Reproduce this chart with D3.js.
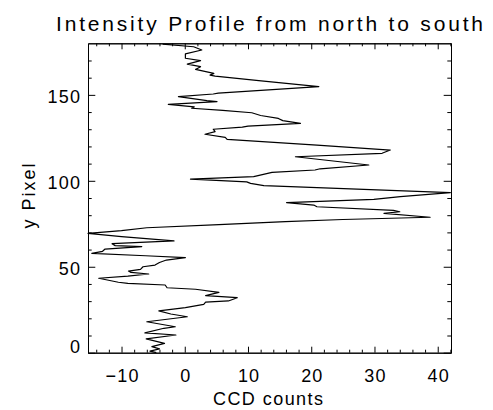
<!DOCTYPE html>
<html>
<head>
<meta charset="utf-8">
<script src="https://cdn.jsdelivr.net/npm/d3@7/dist/d3.min.js"></script>
<style>
  html, body { margin: 0; padding: 0; background: #fff; }
  svg { display: block; }
  text { font-family: "Liberation Sans", Arial, sans-serif; fill: #000; }
</style>
</head>
<body>
<svg id="chart" width="493" height="410"></svg>
<script>
// ---- data ----
const yPixel = [0, 0.9, 2.2, 3.5, 5.4, 8.0, 10.3, 11.5, 14.2, 15.1, 18.0, 20.9, 22.5, 24.3, 26.2, 28.1, 29.4, 30.1, 32.0, 33.2,
  35.1, 36.9, 37.8, 39.4, 40.3, 41.0, 43.3, 44.5, 45.8, 46.7, 47.5, 48.5, 50.0, 51.0, 52.5, 53.9, 55.3, 56.4, 57.8, 59.0,
  60.3, 61.7, 62.3, 63.4, 65.0, 67.5, 69.4, 71.0, 72.7, 74.5, 76.2, 77.5, 78.8, 81.1, 82.0, 82.8, 84.9, 85.9, 87.3, 89.2,
  90.8, 93.1, 97.2, 98.5, 99.4, 101.0, 102.4, 104.9, 106.3, 107.0, 109.2, 114.0, 116.0, 117.9, 120.8, 124.1, 125.3, 127.1, 128.6, 130.0,
  131.2, 131.8, 133.4, 135.0, 136.3, 138.0, 139.6, 141.0, 142.2, 143.0, 144.5, 146.1, 146.6, 149.0, 150.5, 151.0, 154.8, 158.3, 160.9, 161.5,
  162.5, 164.8, 166.4, 167.9, 169.9, 171.3, 173.8, 176.1, 178.0, 179.5];
const counts = [-4.5, -5.5, -4.0, -5.2, -3.2, -6.1, -1.4, -6.3, -3.3, -1.5, -6.0, 0.4, -2.2, -4.1, 0.1, 3.0, 3.3, 6.9, 8.3, 3.3,
  5.4, 1.7, -2.8, -3.1, -9.0, -10.5, -13.6, -9.0, -5.7, -8.5, -8.9, -7.0, -6.6, -4.7, -4.0, -2.9, 0.1, -6.2, -14.7, -13.0,
  -12.6, -6.8, -11.0, -11.5, -1.7, -10.0, -15.3, -10.0, -6.0, 5.4, 15.9, 25.0, 38.8, 31.5, 34.0, 33.0, 20.9, 20.4, 16.1, 29.9,
  34.1, 42.0, 12.5, 10.4, 9.8, 0.9, 10.9, 13.8, 20.6, 21.4, 29.1, 17.5, 31.2, 32.5, 20.9, 6.7, 6.4, 3.2, 4.8, 4.5,
  9.1, 10.0, 18.3, 15.5, 14.8, 12.0, 10.6, 6.0, 1.1, 1.5, -2.6, 5.1, 3.5, -1.0, 4.5, 5.3, 21.2, 11.7, 4.8, 4.0,
  4.6, 1.7, 2.5, 0.4, 2.5, 0.1, 0.1, 2.7, 1.4, -3.5];
const xTicks = [-10, 0, 10, 20, 30, 40];
const xMinorTicks = [-14, -12, -8, -6, -4, -2, 2, 4, 6, 8, 12, 14, 16, 18, 22, 24, 26, 28, 32, 34, 36, 38, 42];
const yTicks = [0, 50, 100, 150];
const yMinorTicks = [10, 20, 30, 40, 60, 70, 80, 90, 110, 120, 130, 140, 160, 170];
const xDomain = [-15.3, 42.1];
const yDomain = [0, 180];
const titleText = "Intensity Profile from north to south";
const xLabel = "CCD counts";
const yLabel = "y Pixel";

// ---- layout ----
const svg = d3.select("#chart");
const L = 88, R = 451, T = 43.3, B = 352.7;
const x = d3.scaleLinear().domain(xDomain).range([L, R]);
const y = d3.scaleLinear().domain(yDomain).range([B, T]);

const fmt = d => (d < 0 ? "\u2212" + Math.abs(d) : String(d));

function styleAxis(g) {
  g.selectAll("path.domain").attr("stroke", "#000").attr("stroke-width", 1);
  g.selectAll(".tick line").attr("stroke", "#000").attr("stroke-width", 1);
  g.selectAll(".tick text").attr("font-family", "Liberation Sans, Arial, sans-serif")
    .attr("font-size", 18).attr("letter-spacing", 1.2).attr("fill", "#000");
}

// bottom
svg.append("g").attr("transform", `translate(0,${B})`)
  .call(d3.axisBottom(x).tickValues(xMinorTicks).tickSize(-3).tickSizeOuter(0).tickFormat(""))
  .call(styleAxis);
svg.append("g").attr("transform", `translate(0,${B})`)
  .call(d3.axisBottom(x).tickValues(xTicks).tickSize(-6).tickSizeOuter(0).tickPadding(16.3).tickFormat(fmt))
  .call(styleAxis)
  .call(g => g.selectAll(".tick text").attr("dx", 0.6));
// top
svg.append("g").attr("transform", `translate(0,${T})`)
  .call(d3.axisTop(x).tickValues(xMinorTicks).tickSize(-3).tickSizeOuter(0).tickFormat(""))
  .call(styleAxis);
svg.append("g").attr("transform", `translate(0,${T})`)
  .call(d3.axisTop(x).tickValues(xTicks).tickSize(-6).tickSizeOuter(0).tickFormat(""))
  .call(styleAxis);
// left
svg.append("g").attr("transform", `translate(${L},0)`)
  .call(d3.axisLeft(y).tickValues(yMinorTicks).tickSize(-3.7).tickSizeOuter(0).tickFormat(""))
  .call(styleAxis);
svg.append("g").attr("transform", `translate(${L},0)`)
  .call(d3.axisLeft(y).tickValues(yTicks).tickSize(-7.3).tickSizeOuter(0).tickPadding(6.8).tickFormat(fmt))
  .call(styleAxis)
  .call(g => g.selectAll(".tick text").attr("dy", d => d === 0 ? "-0.02em" : "0.45em"));
// right
svg.append("g").attr("transform", `translate(${R},0)`)
  .call(d3.axisRight(y).tickValues(yMinorTicks).tickSize(-3.7).tickSizeOuter(0).tickFormat(""))
  .call(styleAxis);
svg.append("g").attr("transform", `translate(${R},0)`)
  .call(d3.axisRight(y).tickValues(yTicks).tickSize(-7.3).tickSizeOuter(0).tickFormat(""))
  .call(styleAxis);

// line
const pts = yPixel.map((v, i) => [counts[i], v]);
svg.append("path")
  .datum(pts)
  .attr("fill", "none")
  .attr("stroke", "#000")
  .attr("stroke-width", 1.2)
  .attr("stroke-linejoin", "round")
  .attr("d", d3.line().x(d => x(d[0])).y(d => y(d[1])));

// titles
svg.append("text")
  .attr("x", (L + R) / 2).attr("y", 31)
  .attr("text-anchor", "middle")
  .attr("font-size", 21)
  .attr("textLength", 427).attr("lengthAdjust", "spacing")
  .text(titleText);

svg.append("text")
  .attr("x", 268).attr("y", 405)
  .attr("text-anchor", "middle")
  .attr("font-size", 18)
  .attr("textLength", 110).attr("lengthAdjust", "spacing")
  .text(xLabel);

svg.append("text")
  .attr("transform", "translate(35,196) rotate(-90)")
  .attr("text-anchor", "middle")
  .attr("font-size", 18)
  .attr("textLength", 65).attr("lengthAdjust", "spacing")
  .text(yLabel);
</script>
</body>
</html>
